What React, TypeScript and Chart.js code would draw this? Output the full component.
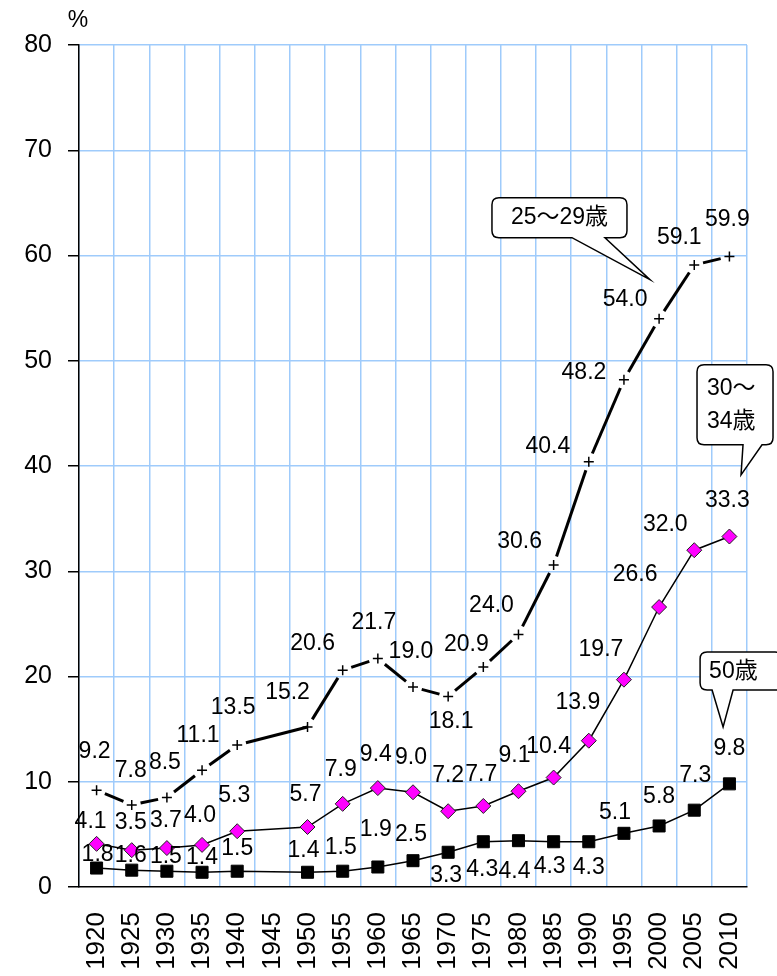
import React, { useEffect, useRef } from 'react';
import { Chart, registerables } from 'chart.js';

Chart.register(...registerables);

// ---- data ----
const years = ['1920', '1925', '1930', '1935', '1940', '1945', '1950', '1955', '1960', '1965', '1970', '1975', '1980', '1985', '1990', '1995', '2000', '2005', '2010'];
const rate25to29 = [9.2, 7.8, 8.5, 11.1, 13.5, null, 15.2, 20.6, 21.7, 19.0, 18.1, 20.9, 24.0, 30.6, 40.4, 48.2, 54.0, 59.1, 59.9];
const rate30to34 = [4.1, 3.5, 3.7, 4.0, 5.3, null, 5.7, 7.9, 9.4, 9.0, 7.2, 7.7, 9.1, 10.4, 13.9, 19.7, 26.6, 32.0, 33.3];
const rate50 = [1.8, 1.6, 1.5, 1.4, 1.5, null, 1.4, 1.5, 1.9, 2.5, 3.3, 4.3, 4.4, 4.3, 4.3, 5.1, 5.8, 7.3, 9.8];
const yMin = 0;
const yMax = 80;
const yStep = 10;
const unitLabel = '%';
const calloutTexts = [['25～29歳'], ['30～', '34歳'], ['50歳']];

// ---- label placement (offset of label centre from its point, px) ----
const labelPlace25 = [[-2, -39], [-1, -34], [-2, -35], [-4, -35], [-4, -37], null, [-20, -34], [-30, -27], [-4, -36], [-2, -35], [3, 25], [-17, -22], [-27, -29], [-34, -23], [-41, -15], [-40, -7], [-34, -19], [-15, -27], [-2, -37]];
const labelPlace30 = [[-6, -22], [-1, -28], [-1, -27], [-2, -29], [-3, -36], null, [-2, -32], [-2, -34], [-2, -33], [-2, -35], [0, -36], [-2, -31], [-4, -36], [-5, -31], [-11, -38], [-23, -30], [-24, -32], [-29, -26], [-2, -36]];
const labelPlace50 = [[1, -13], [-1, -15], [-1, -15], [0, -15], [0, -23], null, [-4, -22], [-2, -24], [-2, -37], [-2, -26], [-2, 23], [-1, 28], [-4, 31], [-4, 25], [0, 26], [-9, -21], [0, -29], [1, -35], [0, -35]];
const labelPlaces = [labelPlace25, labelPlace30, labelPlace50];

const FONT = '"Liberation Sans", Arial, "Noto Sans CJK JP", sans-serif';

const valueLabelPlugin = {
  id: 'valueLabels',
  afterDatasetsDraw(chart: any) {
    const ctx = chart.ctx;
    ctx.save();
    ctx.font = `23px ${FONT}`;
    ctx.fillStyle = '#000';
    ctx.textAlign = 'center';
    ctx.textBaseline = 'middle';
    chart.data.datasets.forEach((ds: any, di: number) => {
      const meta = chart.getDatasetMeta(di);
      ds.data.forEach((v: number | null, i: number) => {
        if (v === null || v === undefined) return;
        const off = labelPlaces[di][i];
        if (!off) return;
        const pt = meta.data[i];
        ctx.fillText(v.toFixed(1), pt.x + off[0], pt.y + off[1]);
      });
    });
    ctx.restore();
  },
};

// callouts: tip anchored in data space; box laid out relative to the tip
const callouts = [
  { text: calloutTexts[0], tipIndex: 15.74, tipValue: 57.7, box: [-158, -82, 135, 40], base: [-78, -45], align: 'center', lineY: [20], textX: 0 },
  { text: calloutTexts[1], tipIndex: 18.33, tipValue: 39.16, box: [-44, -110, 76, 80], base: [2, 21], align: 'left', lineY: [24, 57], textX: 10 },
  { text: calloutTexts[2], tipIndex: 17.82, tipValue: 15.2, box: [-23, -75, 82, 38], base: [-11, 10], align: 'left', lineY: [20], textX: 9 },
];

const calloutPlugin = {
  id: 'callouts',
  afterDraw(chart: any) {
    const ctx = chart.ctx;
    const xs = chart.scales.x;
    const ys = chart.scales.y;
    ctx.save();
    // unit label
    ctx.font = `23px ${FONT}`;
    ctx.fillStyle = '#000';
    ctx.textAlign = 'center';
    ctx.textBaseline = 'middle';
    ctx.fillText(unitLabel, chart.chartArea.left - 1, chart.chartArea.top - 24);

    const step = xs.getPixelForValue(1) - xs.getPixelForValue(0);
    for (const c of callouts) {
      const tx = xs.getPixelForValue(0) + c.tipIndex * step;
      const ty = ys.getPixelForValue(c.tipValue);
      const left = tx + c.box[0];
      const top = ty + c.box[1];
      const w = c.box[2];
      const h = c.box[3];
      const right = left + w;
      const bottom = top + h;
      const r = 7;
      const b0 = tx + c.base[0];
      const b1 = tx + c.base[1];
      ctx.beginPath();
      ctx.moveTo(b0, bottom);
      ctx.lineTo(left + r, bottom);
      ctx.quadraticCurveTo(left, bottom, left, bottom - r);
      ctx.lineTo(left, top + r);
      ctx.quadraticCurveTo(left, top, left + r, top);
      ctx.lineTo(right - r, top);
      ctx.quadraticCurveTo(right, top, right, top + r);
      ctx.lineTo(right, bottom - r);
      ctx.quadraticCurveTo(right, bottom, right - r, bottom);
      ctx.lineTo(b1, bottom);
      ctx.lineTo(tx, ty);
      ctx.closePath();
      ctx.fillStyle = '#fff';
      ctx.fill();
      ctx.strokeStyle = '#000';
      ctx.lineWidth = 1.5;
      ctx.stroke();

      ctx.fillStyle = '#000';
      ctx.font = `23px ${FONT}`;
      ctx.textBaseline = 'middle';
      c.text.forEach((line: string, li: number) => {
        if (c.align === 'center') {
          ctx.textAlign = 'center';
          ctx.fillText(line, left + w / 2, top + c.lineY[li]);
        } else {
          ctx.textAlign = 'left';
          ctx.fillText(line, left + c.textX, top + c.lineY[li]);
        }
      });
    }
    ctx.restore();
  },
};

export default function App() {
  const canvasRef = useRef<HTMLCanvasElement | null>(null);

  useEffect(() => {
    if (!canvasRef.current) return;
    const gridBlue = '#9fcbfb';
    const chart = new Chart(canvasRef.current, {
      type: 'line',
      data: {
        labels: years,
        datasets: [
          {
            label: '25～29歳',
            data: rate25to29,
            borderColor: '#000',
            borderWidth: 3,
            pointStyle: 'cross',
            pointRadius: 5,
            pointBorderWidth: 1.5,
            pointBorderColor: '#000',
            pointBackgroundColor: '#000',
            spanGaps: true,
            tension: 0,
            segment: {
              borderDash: (sc: any) => {
                const a = sc.p0;
                const b = sc.p1;
                const len = Math.hypot(b.x - a.x, b.y - a.y);
                const trim = 9;
                const body = Math.max(len - 2 * trim, 0);
                return [0, trim, body, 2000 + sc.p0DataIndex * 0.01];
              },
            },
          },
          {
            label: '30～34歳',
            data: rate30to34,
            borderColor: '#000',
            borderWidth: 1.5,
            pointStyle: 'rectRot',
            pointRadius: 7.5,
            pointBorderWidth: 1,
            pointBorderColor: '#222',
            pointBackgroundColor: '#ff00ff',
            spanGaps: true,
            tension: 0,
          },
          {
            label: '50歳',
            data: rate50,
            borderColor: '#000',
            borderWidth: 1.5,
            pointStyle: 'rect',
            pointRadius: 8.5,
            pointBorderWidth: 1,
            pointBorderColor: '#000',
            pointBackgroundColor: '#000',
            spanGaps: true,
            tension: 0,
          },
        ],
      },
      options: {
        responsive: false,
        animation: false,
        layout: { padding: { top: 45, right: 30, left: 0, bottom: 0 } },
        plugins: {
          legend: { display: false },
          tooltip: { enabled: false },
        },
        scales: {
          x: {
            type: 'category',
            offset: true,
            grid: {
              color: gridBlue,
              lineWidth: 1.5,
              drawTicks: false,
              offset: true,
            },
            border: { color: '#000', width: 1.5 },
            ticks: {
              color: '#000',
              font: { family: FONT, size: 26 },
              maxRotation: 90,
              minRotation: 90,
              padding: 25,
              autoSkip: false,
            },
            afterFit: (scale: any) => {
              scale.height = 89;
              scale.paddingLeft = 0;
              scale.paddingRight = 0;
            },
          },
          y: {
            min: yMin,
            max: yMax,
            ticks: {
              stepSize: yStep,
              color: '#000',
              font: { family: FONT, size: 25 },
              padding: 16,
            },
            grid: {
              color: (c: any) => (c.tick && c.tick.value === 0 ? 'rgba(0,0,0,0)' : gridBlue),
              lineWidth: 1.5,
              tickColor: '#000',
              tickLength: 11,
              tickWidth: 1.5,
            },
            border: { color: '#000', width: 1.5 },
            afterFit: (scale: any) => {
              scale.width = 79;
              scale.paddingTop = 0;
              scale.paddingBottom = 0;
            },
          },
        },
      },
      plugins: [valueLabelPlugin, calloutPlugin],
    } as any);
    return () => chart.destroy();
  }, []);

  return (
    <div style={{ position: 'absolute', left: 0, top: 0, width: 777, height: 976, background: '#fff' }}>
      <canvas ref={canvasRef} width={777} height={976} style={{ display: 'block' }} />
    </div>
  );
}
